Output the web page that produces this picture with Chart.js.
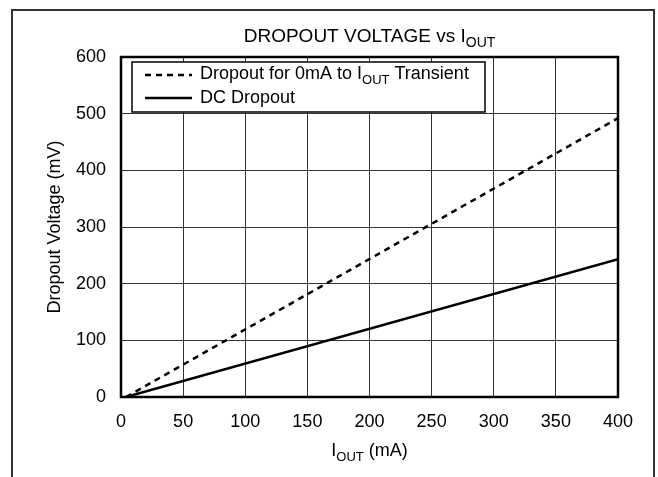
<!DOCTYPE html>
<html>
<head>
<meta charset="utf-8">
<script src="https://cdn.jsdelivr.net/npm/chart.js@4.4.1/dist/chart.umd.min.js"></script>
<style>
  html, body { margin: 0; padding: 0; background: #fff; }
  #wrap { width: 658px; height: 477px; }
</style>
</head>
<body>
<div id="wrap"><canvas id="dropoutChart" width="658" height="477"></canvas></div>
<script>
// valores
const currents = [4, 400];
const transientDropout = [0, 492];
const dcDropout = [0, 243];
const xTicks = [0, 50, 100, 150, 200, 250, 300, 350, 400];
const yTicks = [0, 100, 200, 300, 400, 500, 600];

const FONT = '"Liberation Sans", Arial, sans-serif';

function pts(xs, ys) {
  return xs.map((x, i) => ({ x: x, y: ys[i] }));
}

// texto com subscrito: partes [[texto, ehSub], ...]
function drawParts(ctx, parts, x, y, align, size) {
  const subSize = Math.round(size * 0.72);
  let total = 0;
  parts.forEach(p => {
    ctx.font = (p[1] ? subSize : size) + 'px ' + FONT;
    total += ctx.measureText(p[0]).width;
  });
  let cx = align === 'center' ? x - total / 2 : x;
  ctx.textAlign = 'left';
  ctx.textBaseline = 'middle';
  ctx.fillStyle = '#000';
  parts.forEach(p => {
    ctx.font = (p[1] ? subSize : size) + 'px ' + FONT;
    ctx.fillText(p[0], cx, p[1] ? y + 6 : y);
    cx += ctx.measureText(p[0]).width;
  });
}

const decorations = {
  id: 'decorations',
  afterDraw(chart) {
    const ctx = chart.ctx;
    const a = chart.chartArea;
    ctx.save();

    // moldura externa
    ctx.strokeStyle = '#333';
    ctx.lineWidth = 2;
    ctx.strokeRect(12, 10, 642, 490);

    // borda da area do grafico
    ctx.strokeStyle = '#000';
    ctx.lineWidth = 2.5;
    ctx.strokeRect(a.left, a.top, a.right - a.left, a.bottom - a.top);

    // titulo
    drawParts(ctx, [['DROPOUT VOLTAGE vs I', false], ['OUT', true]], (a.left + a.right) / 2, 37, 'center', 19);

    // titulo eixo x
    drawParts(ctx, [['I', false], ['OUT', true], [' (mA)', false]], (a.left + a.right) / 2, 451, 'center', 18);

    // titulo eixo y
    ctx.save();
    ctx.translate(55, (a.top + a.bottom) / 2);
    ctx.rotate(-Math.PI / 2);
    ctx.font = '18px ' + FONT;
    ctx.textAlign = 'center';
    ctx.textBaseline = 'middle';
    ctx.fillStyle = '#000';
    ctx.fillText('Dropout Voltage (mV)', 0, 0);
    ctx.restore();

    // legenda
    const lx = 132, ly = 62, lw = 353, lh = 50;
    ctx.fillStyle = '#fff';
    ctx.fillRect(lx, ly, lw, lh);
    ctx.strokeStyle = '#000';
    ctx.lineWidth = 1.5;
    ctx.strokeRect(lx, ly, lw, lh);

    ctx.lineWidth = 2.5;
    ctx.setLineDash([6, 5]);
    ctx.beginPath();
    ctx.moveTo(145, 75);
    ctx.lineTo(192, 75);
    ctx.stroke();
    ctx.setLineDash([]);
    ctx.beginPath();
    ctx.moveTo(145, 98);
    ctx.lineTo(192, 98);
    ctx.stroke();

    drawParts(ctx, [['Dropout for 0mA to I', false], ['OUT', true], [' Transient', false]], 200, 74, 'left', 18);
    drawParts(ctx, [['DC Dropout', false]], 200, 98, 'left', 18);

    ctx.restore();
  }
};

new Chart(document.getElementById('dropoutChart'), {
  type: 'line',
  data: {
    datasets: [
      {
        label: 'Dropout for 0mA to IOUT Transient',
        data: pts(currents, transientDropout),
        borderColor: '#000',
        borderWidth: 2.5,
        borderDash: [6, 5],
        pointRadius: 0,
        fill: false
      },
      {
        label: 'DC Dropout',
        data: pts(currents, dcDropout),
        borderColor: '#000',
        borderWidth: 2.5,
        pointRadius: 0,
        fill: false
      }
    ]
  },
  options: {
    responsive: false,
    animation: false,
    devicePixelRatio: 1,
    layout: { padding: { top: 57, right: 40, left: 0, bottom: 0 } },
    plugins: {
      legend: { display: false },
      tooltip: { enabled: false }
    },
    scales: {
      x: {
        type: 'linear',
        min: 0,
        max: 400,
        afterBuildTicks: s => { s.ticks = xTicks.map(v => ({ value: v })); },
        afterFit: s => { s.height = 80; },
        grid: { color: '#333', lineWidth: 1, drawTicks: false },
        border: { display: false },
        ticks: { color: '#000', padding: 14, font: { family: FONT, size: 18 } }
      },
      y: {
        min: 0,
        max: 600,
        afterBuildTicks: s => { s.ticks = yTicks.map(v => ({ value: v })); },
        afterFit: s => { s.width = 121; },
        grid: { color: '#333', lineWidth: 1, drawTicks: false },
        border: { display: false },
        ticks: { color: '#000', padding: 15, font: { family: FONT, size: 18 } }
      }
    }
  },
  plugins: [decorations]
});
</script>
</body>
</html>
